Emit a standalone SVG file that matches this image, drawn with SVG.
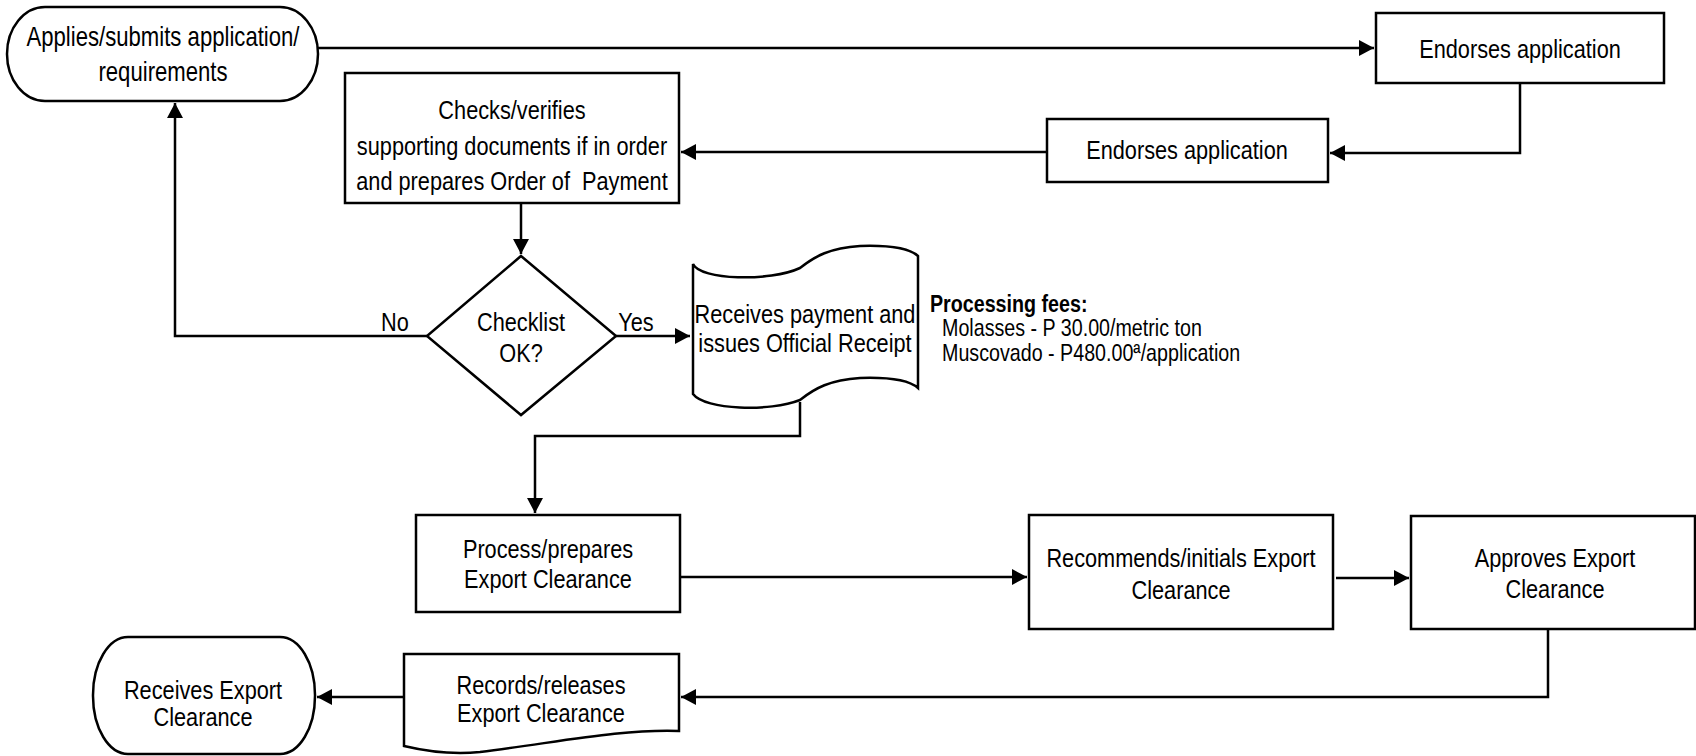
<svg xmlns="http://www.w3.org/2000/svg" width="1696" height="756" viewBox="0 0 1696 756">
<style>
.s{fill:#fff;stroke:#000;stroke-width:2.5}
.t{font-family:"Liberation Sans","Arial",sans-serif;font-size:26.5px;fill:#000;text-anchor:middle}
.f{font-family:"Liberation Sans","Arial",sans-serif;font-size:24px;fill:#000}
.c{fill:none;stroke:#000;stroke-width:2.5}
</style>
<defs>
<marker id="a" markerUnits="userSpaceOnUse" markerWidth="16" markerHeight="16" refX="15" refY="8" orient="auto">
<path d="M0,0 L15,8 L0,16 Z" fill="#000"/>
</marker>
</defs>
<rect width="1696" height="756" fill="#fff"/>
<g id="connectors">
<path class="c" d="M318,48 H1374" marker-end="url(#a)"/>
<path class="c" d="M1520,83 V153 H1330" marker-end="url(#a)"/>
<path class="c" d="M1047,152 H681" marker-end="url(#a)"/>
<path class="c" d="M521,203 V254" marker-end="url(#a)"/>
<path class="c" d="M427,336 H175 V103" marker-end="url(#a)"/>
<path class="c" d="M616,336 H690" marker-end="url(#a)"/>
<path class="c" d="M800,402 V436 H535 V513" marker-end="url(#a)"/>
<path class="c" d="M680,577 H1027" marker-end="url(#a)"/>
<path class="c" d="M1336,578 H1409" marker-end="url(#a)"/>
<path class="c" d="M1548,629 V697 H681" marker-end="url(#a)"/>
<path class="c" d="M404,697 H317" marker-end="url(#a)"/>
</g>
<g id="n1">
<rect class="s" x="7" y="7" width="311" height="94" rx="38" ry="47"/>
<text class="t" style="font-size:27px" x="163" y="46" transform="matrix(0.82 0 0 1 29.34 0)">Applies/submits application/</text>
<text class="t" style="font-size:27px" x="163" y="81" transform="matrix(0.82 0 0 1 29.34 0)">requirements</text>
</g>
<g id="n2">
<rect class="s" x="1376" y="13" width="288" height="70"/>
<text class="t" x="1520" y="58" transform="matrix(0.82 0 0 1 273.6 0)">Endorses application</text>
</g>
<g id="n3">
<rect class="s" x="1047" y="119" width="281" height="63"/>
<text class="t" x="1187" y="159" transform="matrix(0.82 0 0 1 213.66 0)">Endorses application</text>
</g>
<g id="n4">
<rect class="s" x="345" y="73" width="334" height="130"/>
<text class="t" x="512" y="119" transform="matrix(0.82 0 0 1 92.16 0)">Checks/verifies</text>
<text class="t" x="512" y="155" transform="matrix(0.82 0 0 1 92.16 0)">supporting documents if in order</text>
<text class="t" x="512" y="190" xml:space="preserve" transform="matrix(0.82 0 0 1 92.16 0)">and prepares Order of  Payment</text>
</g>
<g id="n5">
<path class="s" d="M521,256 L616,336 L521,415 L427,336 Z"/>
<text class="t" x="521" y="331" transform="matrix(0.82 0 0 1 93.78 0)">Checklist</text>
<text class="t" x="521" y="362" transform="matrix(0.82 0 0 1 93.78 0)">OK?</text>
</g>
<text class="t" x="395" y="331" transform="matrix(0.82 0 0 1 71.1 0)">No</text>
<text class="t" x="636" y="331" transform="matrix(0.82 0 0 1 114.48 0)">Yes</text>
<g id="n6">
<path class="s" d="M693,264 C700,280 770,282 800,268 C815,256 830,248 860,246 C890,245 910,249 918,256 L918,388 C910,381 890,377 860,378 C830,380 815,388 800,400 C770,412 705,410 693,394 Z"/>
<text class="t" x="805" y="323" transform="matrix(0.82 0 0 1 144.9 0)">Receives payment and</text>
<text class="t" x="805" y="352" transform="matrix(0.82 0 0 1 144.9 0)">issues Official Receipt</text>
</g>
<g id="fees">
<text class="f" x="930" y="312" font-weight="bold" transform="matrix(0.82 0 0 1 167.4 0)">Processing fees:</text>
<text class="f" x="942" y="336" transform="matrix(0.82 0 0 1 169.56 0)">Molasses - P 30.00/metric ton</text>
<text class="f" x="942" y="361" transform="matrix(0.82 0 0 1 169.56 0)">Muscovado - P480.00ª/application</text>
</g>
<g id="n7">
<rect class="s" x="416" y="515" width="264" height="97"/>
<text class="t" x="548" y="558" transform="matrix(0.82 0 0 1 98.64 0)">Process/prepares</text>
<text class="t" x="548" y="588" transform="matrix(0.82 0 0 1 98.64 0)">Export Clearance</text>
</g>
<g id="n8">
<rect class="s" x="1029" y="515" width="304" height="114"/>
<text class="t" x="1181" y="567" transform="matrix(0.82 0 0 1 212.58 0)">Recommends/initials Export</text>
<text class="t" x="1181" y="599" transform="matrix(0.82 0 0 1 212.58 0)">Clearance</text>
</g>
<g id="n9">
<rect class="s" x="1411" y="516" width="284" height="113"/>
<text class="t" x="1555" y="567" transform="matrix(0.82 0 0 1 279.9 0)">Approves Export</text>
<text class="t" x="1555" y="598" transform="matrix(0.82 0 0 1 279.9 0)">Clearance</text>
</g>
<g id="n10">
<path class="s" d="M404,654 H679 V731 C620,729 560,742 480,752 C450,755 425,751 404,746 Z"/>
<text class="t" x="541" y="694" transform="matrix(0.82 0 0 1 97.38 0)">Records/releases</text>
<text class="t" x="541" y="722" transform="matrix(0.82 0 0 1 97.38 0)">Export Clearance</text>
</g>
<g id="n11">
<rect class="s" x="93" y="637" width="222" height="117" rx="35" ry="58"/>
<text class="t" x="203" y="699" transform="matrix(0.82 0 0 1 36.54 0)">Receives Export</text>
<text class="t" x="203" y="726" transform="matrix(0.82 0 0 1 36.54 0)">Clearance</text>
</g>
</svg>
